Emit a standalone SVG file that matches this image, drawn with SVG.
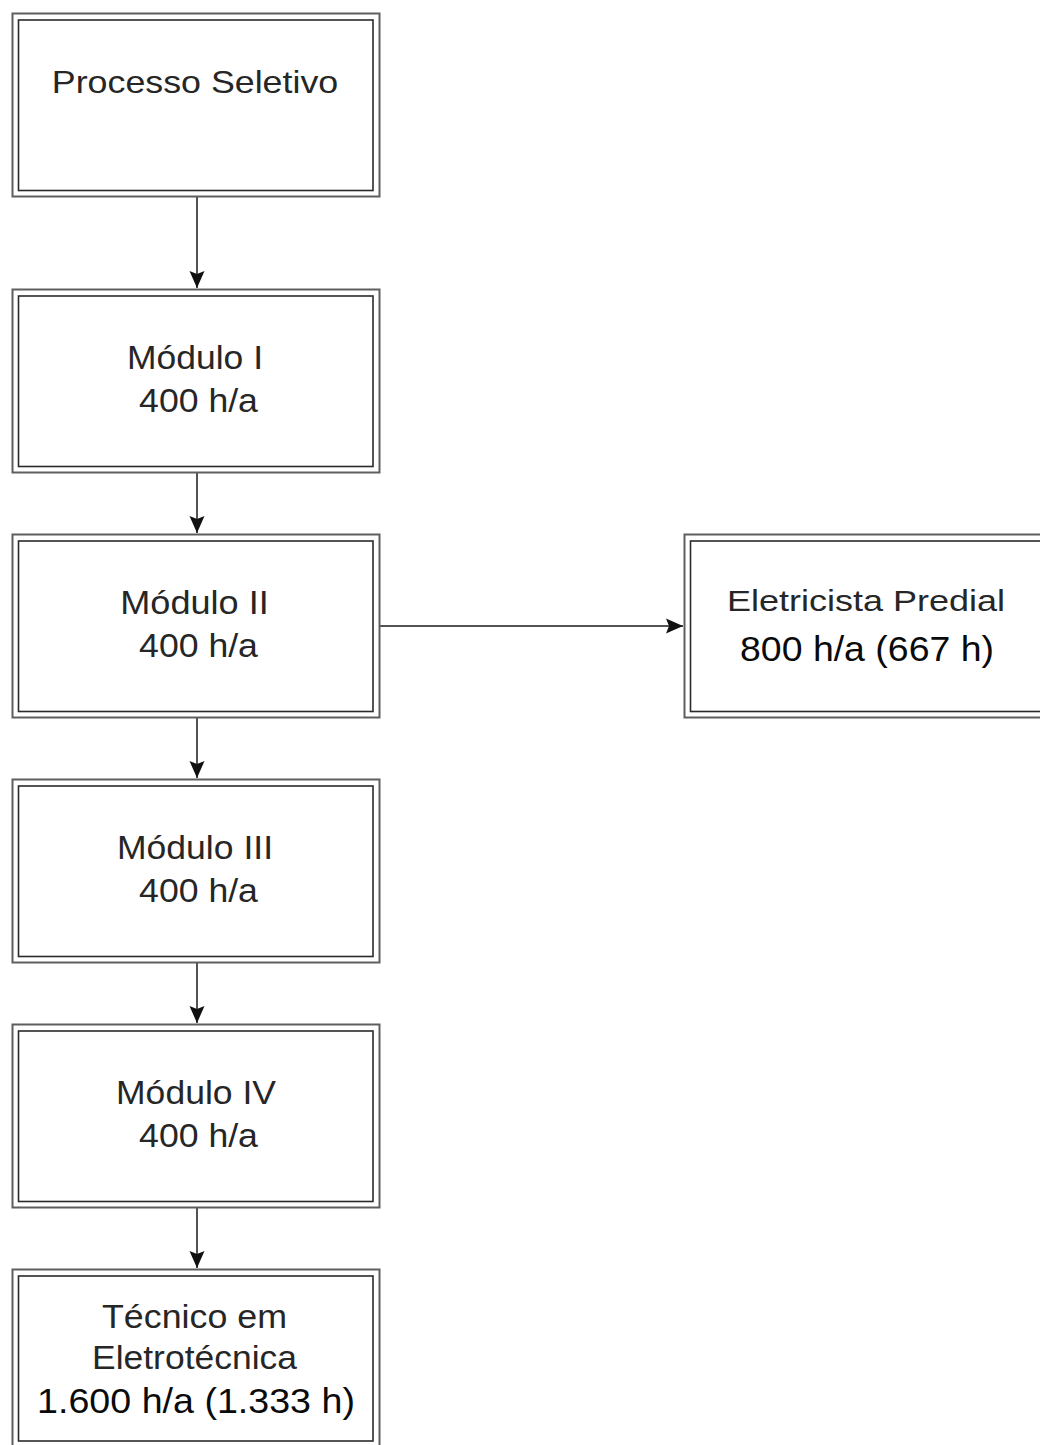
<svg xmlns="http://www.w3.org/2000/svg" width="1040" height="1445" viewBox="0 0 1040 1445">
<style>
.outer{fill:#fff;stroke:#5e5e5e;stroke-width:2}
.inner{fill:none;stroke:#2b2b2b;stroke-width:1.6}
.t{font-family:"Liberation Sans",Arial,sans-serif;font-size:33px;fill:#262626;text-anchor:middle}
.s{font-size:31px}
.e{font-size:30px}
.k{fill:#0a0a0a;font-size:35px}
.c{stroke:#1a1a1a;stroke-width:1.5;fill:none}
</style>
<defs>
<marker id="ah" markerUnits="userSpaceOnUse" markerWidth="20" markerHeight="20" viewBox="-18 -9 20 18" refX="0" refY="0" orient="auto">
<path d="M0,0 L-17,-7.5 L-14,0 L-17,7.5 Z" fill="#111"/>
</marker>
</defs>
<g id="connectors">
<line class="c" x1="197" y1="197" x2="197" y2="288" marker-end="url(#ah)"/>
<line class="c" x1="197" y1="472" x2="197" y2="533" marker-end="url(#ah)"/>
<line class="c" x1="197" y1="717" x2="197" y2="778" marker-end="url(#ah)"/>
<line class="c" x1="197" y1="962" x2="197" y2="1023" marker-end="url(#ah)"/>
<line class="c" x1="197" y1="1207" x2="197" y2="1268" marker-end="url(#ah)"/>
<line class="c" x1="380" y1="626" x2="683" y2="626" marker-end="url(#ah)"/>
</g>
<g id="processo">
<rect class="outer" x="12.5" y="13.5" width="367" height="183"/>
<rect class="inner" x="18.5" y="20" width="354.5" height="170.5"/>
<text class="t s" transform="translate(195 93) scale(1.155 1)">Processo Seletivo</text>
</g>
<g id="modulo1">
<rect class="outer" x="12.5" y="289.5" width="367" height="183"/>
<rect class="inner" x="18.5" y="296" width="354.5" height="170.5"/>
<text class="t" transform="translate(195 369) scale(1.075 1)">Módulo I</text>
<text class="t" transform="translate(198.5 412) scale(1.08 1)">400 h/a</text>
</g>
<g id="modulo2">
<rect class="outer" x="12.5" y="534.5" width="367" height="183"/>
<rect class="inner" x="18.5" y="541" width="354.5" height="170.5"/>
<text class="t" transform="translate(194.5 614) scale(1.095 1)">Módulo II</text>
<text class="t" transform="translate(198.5 657) scale(1.08 1)">400 h/a</text>
</g>
<g id="modulo3">
<rect class="outer" x="12.5" y="779.5" width="367" height="183"/>
<rect class="inner" x="18.5" y="786" width="354.5" height="170.5"/>
<text class="t" transform="translate(195 859) scale(1.077 1)">Módulo III</text>
<text class="t" transform="translate(198.5 902) scale(1.08 1)">400 h/a</text>
</g>
<g id="modulo4">
<rect class="outer" x="12.5" y="1024.5" width="367" height="183"/>
<rect class="inner" x="18.5" y="1031" width="354.5" height="170.5"/>
<text class="t" transform="translate(196 1104) scale(1.077 1)">Módulo IV</text>
<text class="t" transform="translate(198.5 1147) scale(1.08 1)">400 h/a</text>
</g>
<g id="tecnico">
<rect class="outer" x="12.5" y="1269.5" width="367" height="183"/>
<rect class="inner" x="18.5" y="1276" width="354.5" height="165"/>
<text class="t" transform="translate(194.5 1328) scale(1.085 1)">Técnico em</text>
<text class="t" transform="translate(194.5 1369) scale(1.075 1)">Eletrotécnica</text>
<text class="t k" transform="translate(196 1413) scale(1.075 1)">1.600 h/a (1.333 h)</text>
</g>
<g id="eletricista">
<rect class="outer" x="684.5" y="534.5" width="367" height="183"/>
<rect class="inner" x="690.5" y="541" width="354.5" height="170.5"/>
<text class="t e" transform="translate(866 611) scale(1.2 1)">Eletricista Predial</text>
<text class="t k" transform="translate(867 661) scale(1.07 1)">800 h/a (667 h)</text>
</g>
</svg>
